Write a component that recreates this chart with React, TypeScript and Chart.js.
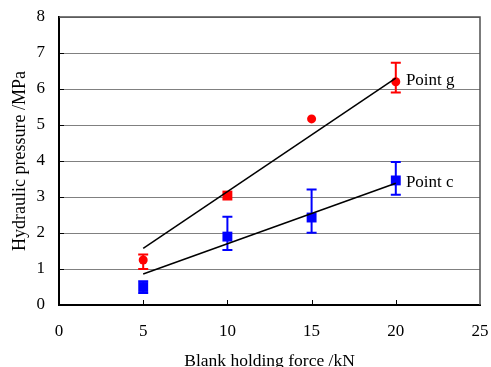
import React, { useEffect, useRef } from "react";
import { Chart, registerables } from "chart.js";

Chart.register(...registerables);

const forceKN = [5, 10, 15, 20];
const pointG = [1.25, 3.04, 5.17, 6.2];
const pointGHigh: (number | null)[] = [1.4, null, null, 6.73];
const pointGLow: (number | null)[] = [1.0, null, null, 5.9];
const pointGStyles = ["circle", "rect", "circle", "circle"];
const pointC = [0.5, 1.9, 2.43, 3.46];
const pointCHigh: (number | null)[] = [0.66, 2.45, 3.21, 3.97];
const pointCLow: (number | null)[] = [0.33, 1.53, 2.01, 3.06];
const fitGX = [5, 20];
const fitGY = [1.57, 6.3];
const fitCX = [5, 20];
const fitCY = [0.86, 3.38];
const labelG = { x: 20.6, y: 6.11, text: "Point g" };
const labelC = { x: 20.6, y: 3.28, text: "Point c" };

const SERIF = "'Liberation Serif', 'Times New Roman', serif";

export default function App() {
  const ref = useRef<HTMLCanvasElement | null>(null);

  useEffect(() => {
    if (!ref.current) return;

    const errorBars = {
      id: "errorBars",
      beforeDatasetsDraw(chart: any) {
        const { ctx, scales } = chart;
        const xs = scales.x;
        const ys = scales.y;
        const sets = [
          { hi: pointGHigh, lo: pointGLow, color: "#ff0000" },
          { hi: pointCHigh, lo: pointCLow, color: "#0000ff" },
        ];
        ctx.save();
        sets.forEach((s) => {
          ctx.strokeStyle = s.color;
          ctx.lineWidth = 2;
          forceKN.forEach((xv, i) => {
            const h = s.hi[i];
            const l = s.lo[i];
            if (h == null || l == null) return;
            const px = xs.getPixelForValue(xv);
            const ph = ys.getPixelForValue(h);
            const pl = ys.getPixelForValue(l);
            ctx.beginPath();
            ctx.moveTo(px, ph);
            ctx.lineTo(px, pl);
            ctx.moveTo(px - 5, ph);
            ctx.lineTo(px + 5, ph);
            ctx.moveTo(px - 5, pl);
            ctx.lineTo(px + 5, pl);
            ctx.stroke();
          });
        });
        ctx.restore();
      },
      afterDraw(chart: any) {
        const { ctx, scales, chartArea } = chart;
        const xs = scales.x;
        const ys = scales.y;
        ctx.save();
        ctx.strokeStyle = "#505050";
        ctx.lineWidth = 1.5;
        ctx.beginPath();
        ctx.moveTo(chartArea.left, chartArea.top);
        ctx.lineTo(chartArea.right, chartArea.top);
        ctx.lineTo(chartArea.right, chartArea.bottom);
        ctx.stroke();
        ctx.strokeStyle = "#000";
        ctx.lineWidth = 1;
        [5, 10, 15, 20].forEach((v) => {
          const px = Math.round(xs.getPixelForValue(v)) + 0.5;
          ctx.beginPath();
          ctx.moveTo(px, chartArea.bottom);
          ctx.lineTo(px, chartArea.bottom - 5);
          ctx.stroke();
        });
        [1, 2, 3, 4, 5, 6, 7].forEach((v) => {
          const py = Math.round(ys.getPixelForValue(v)) + 0.5;
          ctx.beginPath();
          ctx.moveTo(chartArea.left, py);
          ctx.lineTo(chartArea.left + 5, py);
          ctx.stroke();
        });
        ctx.fillStyle = "#000";
        ctx.font = "17px " + SERIF;
        ctx.textAlign = "left";
        ctx.textBaseline = "alphabetic";
        [labelG, labelC].forEach((lb) => {
          ctx.fillText(lb.text, xs.getPixelForValue(lb.x), ys.getPixelForValue(lb.y));
        });
        ctx.restore();
      },
    };

    const chart = new Chart(ref.current, {
      type: "scatter",
      data: {
        datasets: [
          {
            label: "fit g",
            data: fitGX.map((x, i) => ({ x, y: fitGY[i] })),
            showLine: true,
            borderColor: "#000",
            borderWidth: 1.5,
            pointRadius: 0,
          },
          {
            label: "fit c",
            data: fitCX.map((x, i) => ({ x, y: fitCY[i] })),
            showLine: true,
            borderColor: "#000",
            borderWidth: 1.5,
            pointRadius: 0,
          },
          {
            label: "Point g",
            data: forceKN.map((x, i) => ({ x, y: pointG[i] })),
            backgroundColor: "#ff0000",
            borderColor: "#ff0000",
            pointStyle: pointGStyles as any,
            pointRadius: forceKN.map((_, i) => (pointGStyles[i] === "rect" ? 7 : 4.5)),
            borderWidth: 0,
          },
          {
            label: "Point c",
            data: forceKN.map((x, i) => ({ x, y: pointC[i] })),
            backgroundColor: "#0000ff",
            borderColor: "#0000ff",
            pointStyle: "rect",
            pointRadius: 7,
            borderWidth: 0,
          },
        ],
      },
      options: {
        animation: false,
        responsive: true,
        maintainAspectRatio: false,
        layout: { padding: { top: 17, right: 11, left: 0, bottom: 0 } },
        plugins: { legend: { display: false }, tooltip: { enabled: false } },
        scales: {
          x: {
            type: "linear",
            min: 0,
            max: 25,
            afterFit: (s: any) => {
              s.height = 62;
              s.paddingLeft = 0;
              s.paddingRight = 0;
            },
            ticks: {
              stepSize: 5,
              padding: 16,
              color: "#000",
              font: { family: SERIF, size: 17 },
            },
            grid: { display: false, drawTicks: false },
            border: { display: true, color: "#000", width: 2 },
            title: {
              display: true,
              text: "Blank holding force /kN",
              color: "#000",
              font: { family: SERIF, size: 17.5, lineHeight: 0.65 },
              padding: { top: 0, bottom: 0 },
            },
          },
          y: {
            min: 0,
            max: 8,
            afterFit: (s: any) => {
              s.width = 59;
              s.paddingTop = 0;
              s.paddingBottom = 0;
            },
            ticks: {
              stepSize: 1,
              padding: 14,
              color: "#000",
              font: { family: SERIF, size: 17 },
            },
            grid: { color: "#808080", lineWidth: 1, drawTicks: false },
            border: { display: true, color: "#000", width: 2 },
            title: {
              display: true,
              text: "Hydraulic pressure /MPa",
              color: "#000",
              font: { family: SERIF, size: 18, lineHeight: 1.2 },
              padding: { top: 9, bottom: 0 },
            },
          },
        },
      } as any,
      plugins: [errorBars],
    });

    return () => chart.destroy();
  }, []);

  return (
    <div style={{ position: "absolute", left: 0, top: 0, width: 491, height: 367, background: "#fff" }}>
      <canvas ref={ref} />
    </div>
  );
}
